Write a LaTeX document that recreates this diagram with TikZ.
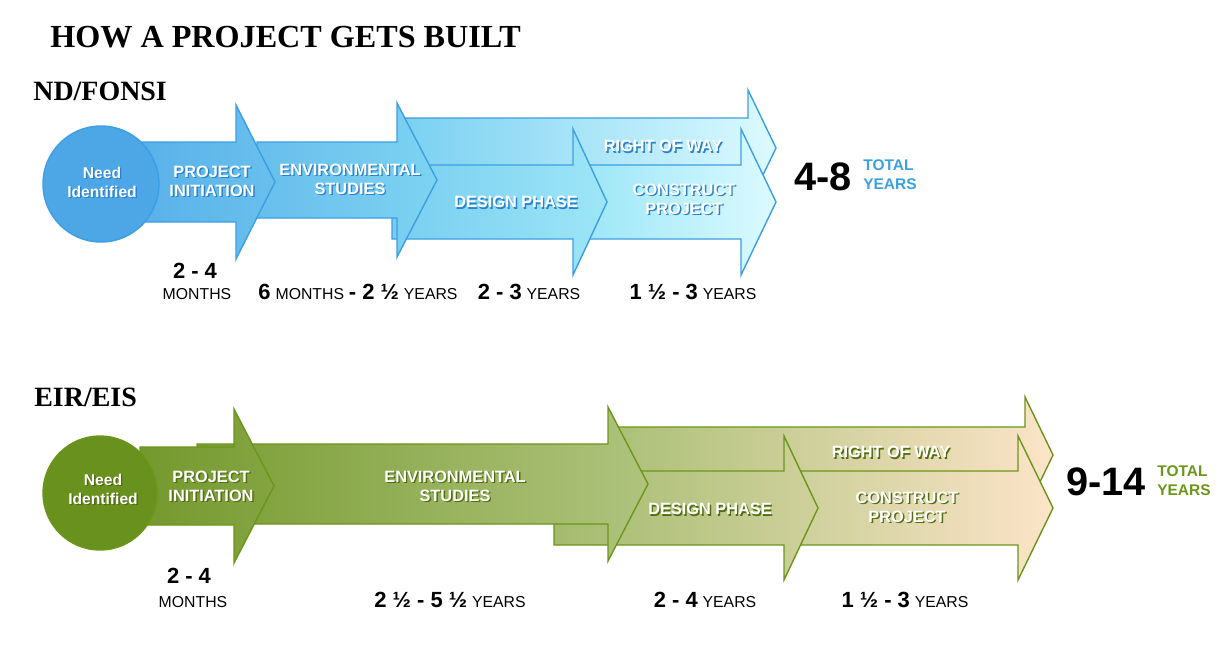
\documentclass[tikz,border=0pt]{standalone}
\usepackage{fontspec}
\setmainfont{Liberation Sans}
\newfontfamily\headfont{Liberation Serif}
\usetikzlibrary{positioning}

\definecolor{bluedge}{RGB}{61,159,227}
\definecolor{blueshade}{RGB}{40,130,205}
\definecolor{bluetotal}{RGB}{60,160,225}
\definecolor{greenedge}{RGB}{107,150,25}
\definecolor{greenshade}{RGB}{80,110,15}

% arrow outline: style, body start, head base, tip, centre, body half, head half
\newcommand{\stagearrow}[7]{%
  \draw[#1] (#2,{#5-#6}) -- (#3,{#5-#6}) -- (#3,{#5-#7}) -- (#4,#5)
    -- (#3,{#5+#7}) -- (#3,{#5+#6}) -- (#2,{#5+#6}) -- cycle;}
% white lettering with a soft drop shadow
\newcommand{\shd}[2]{\makebox[0pt][l]{\hspace{0.8pt}\raisebox{-0.8pt}{\color{#1}#2}}#2}
\newcommand{\bsh}[1]{\shd{blueshade}{#1}}
\newcommand{\gsh}[1]{\shd{greenshade}{#1}}
\newcommand{\dnum}[1]{{\bfseries\fontsize{12.5}{14}\selectfont #1}}
\newcommand{\dunit}[1]{{\fontsize{9}{11}\selectfont #1}}

\tikzset{
  bluestage/.style={draw=bluedge, line width=0.8pt},
  greenstage/.style={draw=greenedge, line width=0.8pt},
  steplabel/.style={text=white, align=center, inner sep=0pt,
    font=\bfseries\fontsize{9.3}{10.8}\selectfont},
  needlabel/.style={text=white, align=center, inner sep=0pt,
    font=\bfseries\fontsize{8.9}{10.8}\selectfont},
  duration/.style={anchor=base, inner sep=0pt},
  rowtitle/.style={anchor=base west, inner sep=0pt,
    font=\headfont\bfseries\fontsize{15.9}{18}\selectfont},
  totalnum/.style={inner sep=0pt, font=\bfseries\fontsize{22.6}{24}\selectfont},
  totalword/.style={anchor=base west, inner sep=0pt,
    font=\bfseries\fontsize{8.8}{10}\selectfont},
}

\begin{document}
\begin{tikzpicture}[x=0.02cm, y=-0.02cm]
  \path[fill=white, use as bounding box] (0,0) rectangle (1230,656);

  \node[anchor=base west, inner sep=0pt,
    font=\headfont\bfseries\fontsize{18.3}{20}\selectfont] (title) at (50,47)
    {HOW A PROJECT GETS BUILT};

  %% ND/FONSI
  \node[rowtitle] (fonsi) at (33,100) {ND/FONSI};

  \stagearrow{bluestage, left color={rgb,255:red,121;green,208;blue,241},
    right color={rgb,255:red,220;green,250;blue,255}}{400}{748}{776}{148}{30}{58}
  \stagearrow{bluestage, left color={rgb,255:red,155;green,230;blue,247},
    right color={rgb,255:red,220;green,250;blue,255}}{580}{741}{776}{202}{37}{73}
  \stagearrow{bluestage, left color={rgb,255:red,120;green,206;blue,240},
    right color={rgb,255:red,157;green,230;blue,247}}{392}{573}{607}{202}{37}{73}
  \stagearrow{bluestage, left color={rgb,255:red,103;green,190;blue,236},
    right color={rgb,255:red,125;green,211;blue,241}}{257}{397}{437}{180}{38}{77}
  \stagearrow{bluestage, left color={rgb,255:red,89;green,177;blue,233},
    right color={rgb,255:red,105;green,192;blue,237}}{140}{236}{275}{182}{40}{77}
  \draw[bluestage, fill={rgb,255:red,77;green,166;blue,230}] (101,184) circle (58);

  \node[needlabel] (needA) at (102,183) {\bsh{Need}\\\bsh{Identified}};
  \node[steplabel] (initA) at (212,182) {\bsh{PROJECT}\\\bsh{INITIATION}};
  \node[steplabel] (envA) at (350,180) {\bsh{ENVIRONMENTAL}\\\bsh{STUDIES}};
  \node[steplabel] (designA) at (516,203) {\bsh{DESIGN PHASE}};
  \node[steplabel] (rowA) at (663,147) {\bsh{RIGHT OF WAY}};
  \node[steplabel] (buildA) at (684,200) {\bsh{CONSTRUCT}\\\bsh{PROJECT}};

  \node[duration] (initnumA) at (195,278) {\dnum{2 - 4}};
  \node[duration] (initunitA) at (197,299) {\dunit{MONTHS}};
  \node[duration] (envtimeA) at (358,299)
    {\dnum{6} \dunit{MONTHS} \dnum{- 2 ½} \dunit{YEARS}};
  \node[duration] (designtimeA) at (529,299) {\dnum{2 - 3} \dunit{YEARS}};
  \node[duration] (buildtimeA) at (693,299) {\dnum{1 ½ - 3} \dunit{YEARS}};

  \node[totalnum] (totalA) at (823,177) {4-8};
  \node[totalword, text=bluetotal] (totalwordA) at (863,170) {TOTAL};
  \node[totalword, text=bluetotal] (yearswordA) at (863,189) {YEARS};

  %% EIR/EIS
  \node[rowtitle] (eis) at (34,406) {EIR/EIS};

  \stagearrow{greenstage, left color={rgb,255:red,171;green,192;blue,119},
    right color={rgb,255:red,252;green,228;blue,200}}{612}{1025}{1053}{455}{28}{58}
  \stagearrow{greenstage, left color={rgb,255:red,204;green,207;blue,153},
    right color={rgb,255:red,252;green,228;blue,200}}{790}{1018}{1053}{508}{37}{72}
  \stagearrow{greenstage, left color={rgb,255:red,164;green,187;blue,110},
    right color={rgb,255:red,207;green,209;blue,156}}{554}{784}{818}{508}{37}{72}
  \stagearrow{greenstage, left color={rgb,255:red,123;green,158;blue,54},
    right color={rgb,255:red,175;green,195;blue,125}}{197}{608}{648}{484}{40}{77}
  \stagearrow{greenstage, left color={rgb,255:red,116;green,153;blue,45},
    right color={rgb,255:red,132;green,164;blue,66}}{140}{234}{274}{486}{39}{77}
  \draw[greenstage, fill={rgb,255:red,105;green,145;blue,30}] (100,493) circle (57);

  \node[needlabel] (needB) at (103,490) {\gsh{Need}\\\gsh{Identified}};
  \node[steplabel] (initB) at (211,487) {\gsh{PROJECT}\\\gsh{INITIATION}};
  \node[steplabel] (envB) at (455,487) {\gsh{ENVIRONMENTAL}\\\gsh{STUDIES}};
  \node[steplabel] (designB) at (710,510) {\gsh{DESIGN PHASE}};
  \node[steplabel] (rowB) at (891,453) {\gsh{RIGHT OF WAY}};
  \node[steplabel] (buildB) at (907,508) {\gsh{CONSTRUCT}\\\gsh{PROJECT}};

  \node[duration] (initnumB) at (189,583) {\dnum{2 - 4}};
  \node[duration] (initunitB) at (193,607) {\dunit{MONTHS}};
  \node[duration] (envtimeB) at (450,607) {\dnum{2 ½ - 5 ½} \dunit{YEARS}};
  \node[duration] (designtimeB) at (705,607) {\dnum{2 - 4} \dunit{YEARS}};
  \node[duration] (buildtimeB) at (905,607) {\dnum{1 ½ - 3} \dunit{YEARS}};

  \node[totalnum] (totalB) at (1106,482) {9-14};
  \node[totalword, text=greenedge] (totalwordB) at (1157,476) {TOTAL};
  \node[totalword, text=greenedge] (yearswordB) at (1157,495) {YEARS};
\end{tikzpicture}
\end{document}
